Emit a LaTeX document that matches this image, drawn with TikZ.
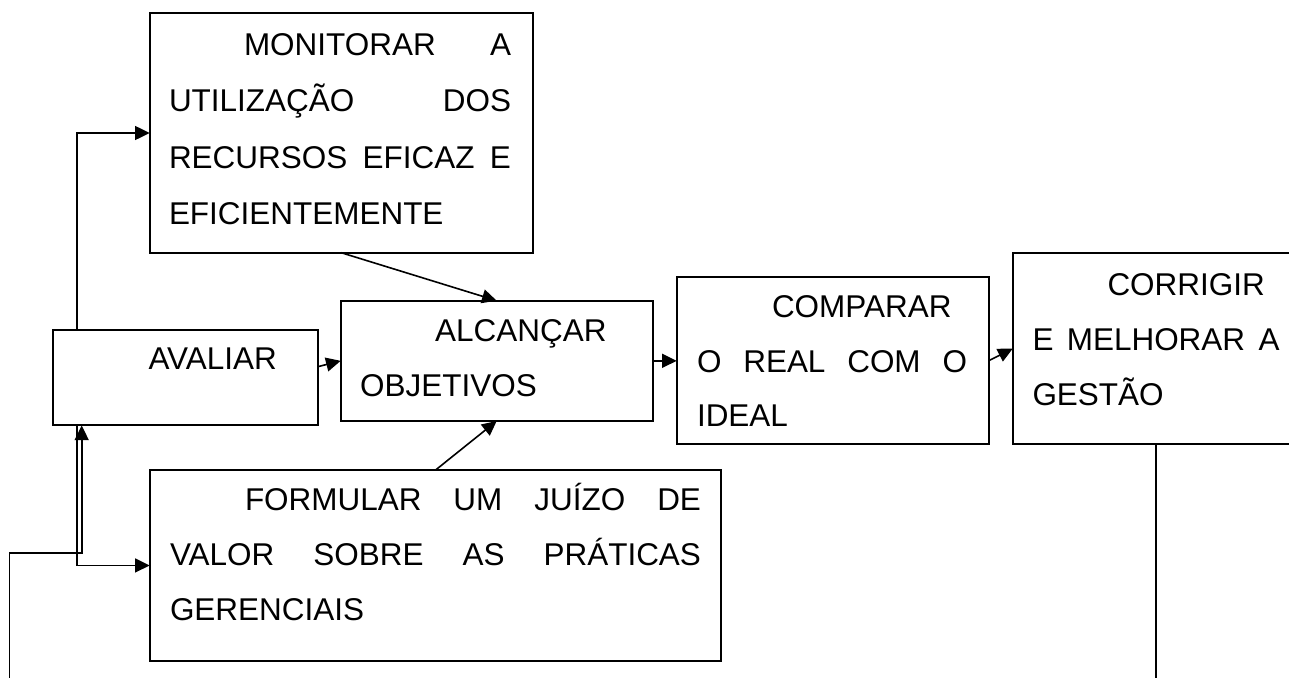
\documentclass[tikz,border=0pt]{standalone}
\usepackage{fontspec}
\setmainfont{Liberation Sans}
\usetikzlibrary{arrows.meta,calc}
\newlength\px \setlength\px{0.75pt}
\newcommand\myJ[1]{\hbox to \linewidth{#1}}
\newcommand\myL[1]{\hbox to \linewidth{#1\hfil}}
\newcommand\myI{\hspace*{75\px}}
\hbadness=10000
\hfuzz=50pt
\newcommand\myText[3]{\parbox[t]{#1\px}{\fontsize{23.6pt}{#2\px}\selectfont #3}}
\begin{document}
\begin{tikzpicture}[x=0.75pt,y=-0.75pt,
  box/.style={draw, line width=1.5pt, inner sep=0pt, outer sep=0pt, anchor=north west},
  txt/.style={inner sep=0pt, outer sep=0pt, anchor=base west},
  arr/.style={line width=1.2pt, -{Triangle[length=11pt,width=10.5pt]}},
  ln/.style={line width=1.2pt}]
\useasboundingbox (0,0) rectangle (1289,678);
% boxes
\node[box, minimum width=287.25pt, minimum height=179.55pt] (mon) at (149.7,13.3) {};
\node[box, minimum width=198.5pt, minimum height=71.6pt] (ava) at (53.3,330) {};
\node[box, minimum width=234pt, minimum height=90.2pt] (alc) at (340.7,300.7) {};
\node[box, minimum width=234.45pt, minimum height=124.65pt] (com) at (676.7,277.3) {};
\node[box, minimum width=214.7pt, minimum height=143pt] (cor) at (1012.7,253.3) {};
\node[box, minimum width=428.5pt, minimum height=142.9pt] (frm) at (149.7,470.2) {};
% texts
\node[txt] (monT) at (169,55) {\myText{342}{56.6}{%
  \myJ{\myI MONITORAR A}
  \myJ{UTILIZAÇÃO DOS}
  \myJ{RECURSOS EFICAZ E}
  \myL{EFICIENTEMENTE}}};
\node[txt] (avaT) at (73.5,369.3) {\myText{230}{55}{%
  \myL{\myI AVALIAR}}};
\node[txt] (alcT) at (360.2,341) {\myText{270}{55}{%
  \myL{\myI ALCANÇAR}
  \myL{OBJETIVOS}}};
\node[txt] (comT) at (697,317.3) {\myText{270}{54.8}{%
  \myL{\myI COMPARAR}
  \myJ{O REAL COM O}
  \myL{IDEAL}}};
\node[txt] (corT) at (1032.5,295) {\myText{247}{55}{%
  \myL{\myI CORRIGIR}
  \myJ{E MELHORAR A}
  \myL{GESTÃO}}};
\node[txt] (frmT) at (170,510.1) {\myText{531}{55.2}{%
  \myJ{\myI FORMULAR UM JUÍZO DE}
  \myJ{VALOR SOBRE AS PRÁTICAS}
  \myL{GERENCIAIS}}};
% helper coordinates
\coordinate (avaTop) at ($(ava.north west)+(23.4,0)$);
\coordinate (avaOut) at ($(ava.south west)+(23.4,0)$);
\coordinate (avaIn) at ($(ava.south west)+(28.4,0)$);
\coordinate (fbL) at (9.3,680);
% connectors
\draw[arr] (avaTop) |- (mon.west);
\draw[arr] (mon.south) -- (alc.north);
\draw[arr] ([yshift=8.3pt]ava.east) -- (alc.west);
\draw[arr] (alc.east) -- (alc.east -| com.west);
\draw[arr] (com.east) -- (cor.west);
\draw[arr] (frm.north) -- (alc.south);
\draw[ln] (cor.south) -- (cor.south |- fbL);
\draw[arr] (fbL) -- (fbL |- 0,553) -| (avaIn);
\draw[arr] (avaOut) |- (frm.west);
\end{tikzpicture}
\end{document}
